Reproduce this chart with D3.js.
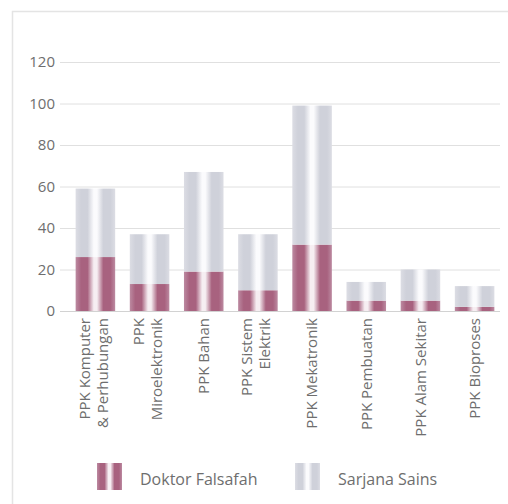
<!DOCTYPE html>
<html>
<head>
<meta charset="utf-8">
<script src="https://cdn.jsdelivr.net/npm/d3@7/dist/d3.min.js"></script>
<style>
  html, body { margin: 0; padding: 0; background: #ffffff; }
  svg { display: block; }
  text { font-family: "Open Sans", sans-serif; fill: #6e6e6e; }
</style>
</head>
<body>
<svg id="chart" width="508" height="504"></svg>
<script>
const categories = [
  ["PPK Komputer", "& Perhubungan"],
  ["PPK", "Miroelektronik"],
  ["PPK Bahan"],
  ["PPK Sistem", "Elektrik"],
  ["PPK Mekatronik"],
  ["PPK Pembuatan"],
  ["PPK Alam Sekitar"],
  ["PPK Bioproses"]
];
const doktorFalsafah = [26, 13, 19, 10, 32, 5, 5, 2];
const sarjanaSains   = [33, 24, 48, 27, 67, 9, 15, 10];
const seriesNames = ["Doktor Falsafah", "Sarjana Sains"];
const yTicks = [0, 20, 40, 60, 80, 100, 120];

const svg = d3.select("#chart");

// frame
svg.append("path")
  .attr("d", "M12.5,504 L12.5,11.5 L508,11.5")
  .attr("fill", "none").attr("stroke", "#e4e4e4").attr("stroke-width", 1.5);

const y = d3.scaleLinear().domain([0, 120]).range([311, 62]);
const x = d3.scaleBand().domain(d3.range(categories.length)).range([61, 509])
  .paddingInner(0.27).paddingOuter(0.27);

// gradients (cylinder look)
const defs = svg.append("defs");
function grad(id, col, edge, mid) {
  const g = defs.append("linearGradient").attr("id", id)
    .attr("x1", 0).attr("x2", 1).attr("y1", 0).attr("y2", 0);
  [[0, edge], [0.14, col], [0.3, col], [0.46, mid], [0.54, mid], [0.7, col], [0.88, col], [1, edge]]
    .forEach(([o, c]) => g.append("stop").attr("offset", o).attr("stop-color", c));
}
grad("gDoktor", "#a8627f", "#bc8aa1", "#f6eef2");
grad("gSarjana", "#cfd1da", "#dcdde4", "#fbfbfd");
const fills = ["url(#gDoktor)", "url(#gSarjana)"];

// gridlines + y labels
const yAxis = svg.append("g");
yAxis.selectAll("line").data(yTicks).join("line")
  .attr("x1", 60).attr("x2", 500)
  .attr("y1", d => y(d) + 0.5).attr("y2", d => y(d) + 0.5)
  .attr("stroke", d => d === 0 ? "#d2d2d2" : "#e0e0e0").attr("stroke-width", 1);
yAxis.selectAll("text").data(yTicks).join("text")
  .attr("x", 55).attr("y", d => y(d)).attr("dy", "0.36em")
  .attr("text-anchor", "end").attr("font-size", 15)
  .text(d => d);

// stacked bars
const stackData = categories.map((c, i) => ({ i, d: doktorFalsafah[i], s: sarjanaSains[i] }));
const stack = d3.stack().keys(["d", "s"])(stackData);
svg.append("g").selectAll("g").data(stack).join("g")
  .attr("fill", (d, k) => fills[k])
  .selectAll("rect").data(d => d).join("rect")
  .attr("x", d => x(d.data.i))
  .attr("width", x.bandwidth())
  .attr("y", d => y(d[1]))
  .attr("height", d => y(d[0]) - y(d[1]));

// category labels (rotated)
const lineH = 18;
const labels = svg.append("g");
categories.forEach((lines, i) => {
  const cx = x(i) + x.bandwidth() / 2 - (lines.length > 1 ? 2 : 0);
  const n = lines.length;
  lines.forEach((t, j) => {
    const off = (j - (n - 1) / 2) * lineH;
    labels.append("text")
      .attr("transform", `translate(${cx + off},318) rotate(-90)`)
      .attr("text-anchor", "end").attr("dy", "0.36em")
      .attr("font-size", 15)
      .text(t);
  });
});

// legend
const legend = svg.append("g");
const legendItems = [
  { name: seriesNames[0], sx: 97, tx: 140 },
  { name: seriesNames[1], sx: 295, tx: 338 }
];
legendItems.forEach((it, k) => {
  legend.append("rect").attr("x", it.sx).attr("y", 463).attr("width", 25).attr("height", 27)
    .attr("fill", fills[k]);
  legend.append("text").attr("x", it.tx).attr("y", 485).attr("font-size", 16).text(it.name);
});
</script>
</body>
</html>
